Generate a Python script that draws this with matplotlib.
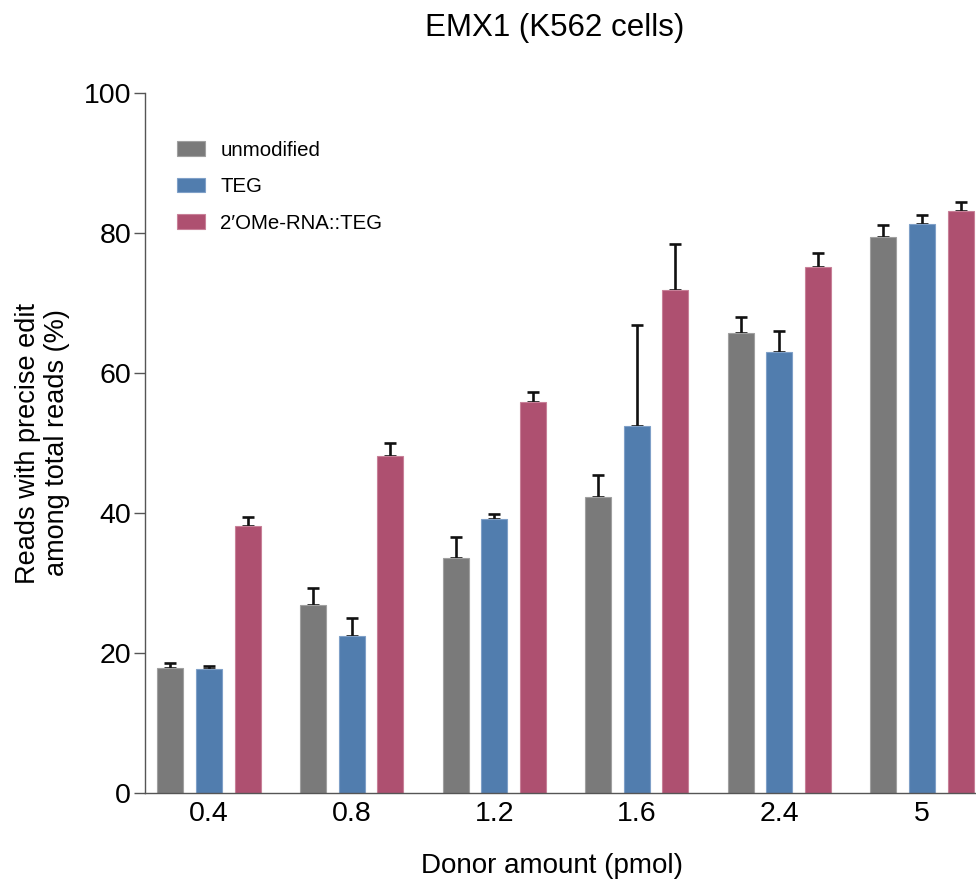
import matplotlib
matplotlib.use("Agg")
import matplotlib.pyplot as plt
import numpy as np

plt.rcParams['font.family'] = ['Liberation Sans', 'DejaVu Sans']

doses = ["0.4", "0.8", "1.2", "1.6", "2.4", "5"]
series = ["unmodified", "TEG", "2\u2032OMe-RNA::TEG"]

unmod = [17.9, 26.8, 33.6, 42.3, 65.7, 79.4]
unmod_err = [0.7, 2.5, 3.0, 3.2, 2.3, 1.7]
teg = [17.7, 22.5, 39.1, 52.5, 63.0, 81.3]
teg_err = [0.4, 2.5, 0.7, 14.3, 3.0, 1.3]
ome = [38.2, 48.2, 55.9, 71.8, 75.2, 83.2]
ome_err = [1.3, 1.8, 1.4, 6.7, 1.9, 1.2]

colors = ["#7a7a7a", "#517dae", "#ae5070"]
edges = ["#a0a0a0", "#7fa0c8", "#c88098"]

fig = plt.figure(figsize=(9.76, 8.84), dpi=100)
ax = fig.add_axes([145 / 976, 1 - 793 / 884, 1 - 145 / 976, 700 / 884])

x = np.arange(len(doses))
width = 0.182
step = 0.271
vals = [unmod, teg, ome]
errs = [unmod_err, teg_err, ome_err]
for i in range(3):
    pos = x + (i - 1) * step
    ax.bar(pos, vals[i], width=width, color=colors[i], edgecolor=edges[i],
           linewidth=0.8, label=series[i], zorder=2)
    ax.errorbar(pos, vals[i], yerr=[np.zeros(len(doses)), errs[i]], fmt='none',
                ecolor='#111111', elinewidth=1.9, capsize=4.5, capthick=1.9, zorder=1)

ax.set_xlim(-0.449, 5.379)
ax.set_ylim(0, 100)
ax.set_yticks([0, 20, 40, 60, 80, 100])
ax.set_xticks(x)
ax.set_xticklabels(doses)
ax.tick_params(axis='x', length=0, pad=6, labelsize=20.5)
ax.tick_params(axis='y', length=8, width=1, color='#555555', pad=2, labelsize=20.5, direction='out')
for s in ['top', 'right']:
    ax.spines[s].set_visible(False)
for s in ['left', 'bottom']:
    ax.spines[s].set_color('#555555')
    ax.spines[s].set_linewidth(1)

ax.set_ylabel("Reads with precise edit\namong total reads (%)", fontsize=19.5,
              linespacing=1.15, va='center')
ax.yaxis.set_label_coords(-102 / 831, 0.5)
ax.set_xlabel("Donor amount (pmol)", fontsize=20, va='center')
ax.xaxis.set_label_coords((552 - 145) / 831, -73 / 700)
fig.text(555 / 976, 1 - 28 / 884, "EMX1 (K562 cells)", fontsize=22.5, ha='center', va='center')

ax.legend(loc='upper left', bbox_to_anchor=(0.038, 0.932), frameon=False, fontsize=14.7,
          handlelength=1.37, handleheight=0.73, handletextpad=0.77, labelspacing=0.86,
          borderpad=0, borderaxespad=0)

fig.savefig("out.png", dpi=100)
